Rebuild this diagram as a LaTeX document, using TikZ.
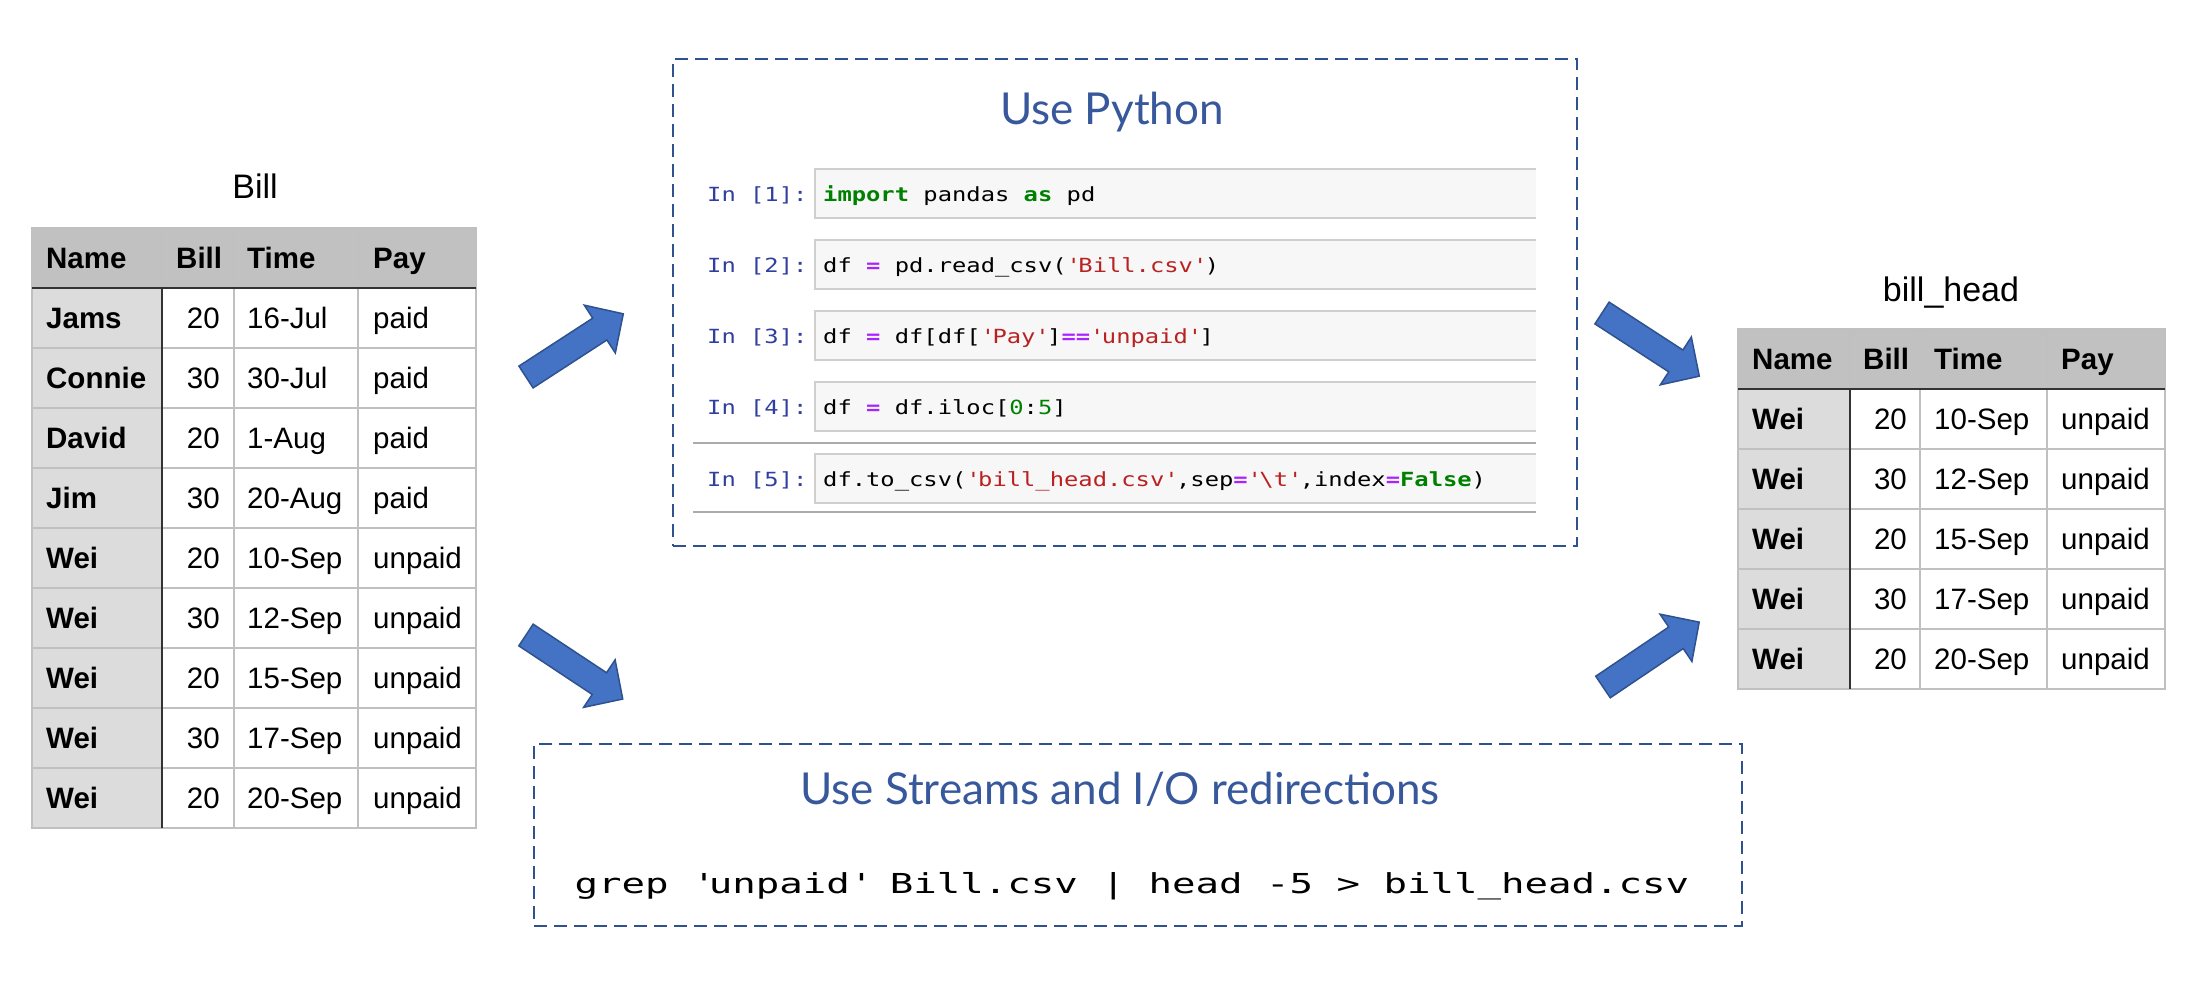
\documentclass[tikz,border=0pt]{standalone}
\usepackage{fontspec}
\usetikzlibrary{positioning, calc}
\setmainfont{Liberation Sans}
\newfontfamily\titlefont{Lato}
\newfontfamily\codefont[FakeStretch=1.22]{DejaVu Sans Mono}
\newfontfamily\shellfont[FakeStretch=1.42]{DejaVu Sans Mono}

\definecolor{headgray}{RGB}{192,193,192}
\definecolor{namegray}{RGB}{220,220,220}
\definecolor{gridgray}{RGB}{192,192,192}
\definecolor{boxblue}{RGB}{47,82,143}
\definecolor{titleblue}{RGB}{56,88,156}
\definecolor{arrowfill}{RGB}{68,114,196}
\definecolor{arrowdraw}{RGB}{47,82,143}
\definecolor{promptblue}{RGB}{48,63,159}
\definecolor{kwgreen}{RGB}{0,128,0}
\definecolor{strred}{RGB}{186,33,33}
\definecolor{oppurple}{RGB}{170,34,255}
\definecolor{cellfill}{RGB}{247,247,247}
\definecolor{cellline}{RGB}{207,207,207}
\definecolor{sepgray}{RGB}{171,171,171}

\newcommand{\sq}{\textquotesingle}
\newcommand{\pykw}[1]{\textcolor{kwgreen}{\bfseries #1}}
\newcommand{\pystr}[1]{\textcolor{strred}{#1}}
\newcommand{\pyop}[1]{\textcolor{oppurple}{\bfseries #1}}
\newcommand{\pynum}[1]{\textcolor{kwgreen}{#1}}

\begin{document}
\begin{tikzpicture}[
		x=1pt, y=-1pt,
		cellt/.style={font=\fontsize{29.5}{30}\selectfont, inner sep=0pt, text height=21pt, text depth=0pt},
		namet/.style={cellt, font=\fontsize{29.5}{30}\selectfont\bfseries},
		tabtitle/.style={font=\fontsize{34}{36}\selectfont, inner sep=0pt, text height=24pt, text depth=0pt},
		grid/.style={draw=gridgray, line width=1.5pt},
		darkline/.style={draw=black!80, line width=2pt},
		dashbox/.style={draw=boxblue, line width=2.5pt, dash pattern=on 13pt off 7pt, inner sep=0pt},
		boxtitle/.style={font=\fontsize{44}{46}\titlefont, text=titleblue, inner sep=0pt},
		prompt/.style={font=\fontsize{19.5}{20}\codefont, text=promptblue, inner sep=0pt, text height=14pt, text depth=0pt, anchor=west},
		code/.style={font=\fontsize{19.5}{20}\codefont, inner sep=0pt, text height=14pt, text depth=0pt, anchor=west},
		shell/.style={font=\fontsize{27.5}{28}\shellfont, inner sep=0pt, text height=20pt, text depth=0pt},
		blockarrow/.style={fill=arrowfill, draw=arrowdraw, line width=1.5pt, line join=miter}
	]
	\path[use as bounding box] (0,0) rectangle (2194,980);

	% Tabla de entrada: Bill
	\node[tabtitle] (billtitle) at (255,186) {Bill};
	\fill[headgray] (32,228) rectangle (476,288);
	\fill[namegray] (32,288) rectangle (162,828);
	\foreach \y in {348,408,...,768}
		\draw[grid] (32,\y) -- (476,\y);
	\foreach \x in {234,358}
		\draw[grid] (\x,228) -- (\x,828);
	\draw[grid] (162,228) -- (162,288);
	\draw[grid] (32,228) rectangle (476,828);
	\draw[darkline] (32,288) -- (476,288);
	\draw[darkline] (162,288) -- (162,828);

	\node[namet, anchor=west] (bill-h1) at (46,258) {Name};
	\node[namet, anchor=west] (bill-h2) at (176,258) {Bill};
	\node[namet, anchor=west] (bill-h3) at (247,258) {Time};
	\node[namet, anchor=west] (bill-h4) at (373,258) {Pay};
	\foreach \nm/\bl/\tm/\py [count=\i] in {Jams/20/16-Jul/paid, Connie/30/30-Jul/paid,
			David/20/1-Aug/paid, Jim/30/20-Aug/paid, Wei/20/10-Sep/unpaid, Wei/30/12-Sep/unpaid,
			Wei/20/15-Sep/unpaid, Wei/30/17-Sep/unpaid, Wei/20/20-Sep/unpaid} {
			\node[namet, anchor=west] (bill-n\i) at (46,258+60*\i) {\nm};
			\node[cellt, anchor=east] (bill-b\i) at (220,258+60*\i) {\bl};
			\node[cellt, anchor=west] (bill-t\i) at (247,258+60*\i) {\tm};
			\node[cellt, anchor=west] (bill-p\i) at (373,258+60*\i) {\py};
		}

	% Tabla de salida: bill_head
	\node[tabtitle] (headtitle) at (1951,289) {bill\_head};
	\fill[headgray] (1738,329) rectangle (2165,389);
	\fill[namegray] (1738,389) rectangle (1850,689);
	\foreach \y in {449,509,...,629}
		\draw[grid] (1738,\y) -- (2165,\y);
	\foreach \x in {1920,2047}
		\draw[grid] (\x,329) -- (\x,689);
	\draw[grid] (1850,329) -- (1850,389);
	\draw[grid] (1738,329) rectangle (2165,689);
	\draw[darkline] (1738,389) -- (2165,389);
	\draw[darkline] (1850,389) -- (1850,689);

	\node[namet, anchor=west] (head-h1) at (1752,359) {Name};
	\node[namet, anchor=west] (head-h2) at (1863,359) {Bill};
	\node[namet, anchor=west] (head-h3) at (1934,359) {Time};
	\node[namet, anchor=west] (head-h4) at (2061,359) {Pay};
	\foreach \bl/\tm [count=\i] in {20/10-Sep, 30/12-Sep, 20/15-Sep, 30/17-Sep, 20/20-Sep} {
			\node[namet, anchor=west] (head-n\i) at (1752,359+60*\i) {Wei};
			\node[cellt, anchor=east] (head-b\i) at (1907,359+60*\i) {\bl};
			\node[cellt, anchor=west] (head-t\i) at (1934,359+60*\i) {\tm};
			\node[cellt, anchor=west] (head-p\i) at (2061,359+60*\i) {unpaid};
		}

	% Caja Python
	\node[dashbox, minimum width=904pt, minimum height=487pt] (pybox) at (1125,302.5) {};
	\node[boxtitle] (pytitle) at (1112,112) {Use Python};
	\foreach \t [count=\i] in {169,240,311,382,454} {
			\fill[cellfill] (815,\t) rectangle (1536,\t+49);
			\draw[cellline, line width=2pt] (1536,\t) -- (815,\t) -- (815,\t+49) -- (1536,\t+49);
			\node[prompt] (in\i) at (707,\t+25) {In [\i]:};
		}
	\draw[sepgray, line width=2pt] (693,443) -- (1536,443);
	\draw[sepgray, line width=2pt] (693,512) -- (1536,512);
	\node[code] (code1) at (823,194) {\pykw{import} pandas \pykw{as} pd};
	\node[code] (code2) at (823,265) {df \pyop{=} pd.read\_csv(\pystr{\sq Bill.csv\sq})};
	\node[code] (code3) at (823,336) {df \pyop{=} df[df[\pystr{\sq Pay\sq}]\pyop{==}\pystr{\sq unpaid\sq}]};
	\node[code] (code4) at (823,407) {df \pyop{=} df.iloc[\pynum{0}:\pynum{5}]};
	\node[code] (code5) at (823,479) {df.to\_csv(\pystr{\sq bill\_head.csv\sq},sep\pyop{=}\pystr{\sq\textbackslash t\sq},index\pyop{=}\pykw{False})};

	% Caja Streams
	\node[dashbox, minimum width=1208pt, minimum height=182pt] (iobox) at (1138,835) {};
	\node[boxtitle] (iotitle) at (1120,789) {Use Streams and I/O redirections};
	\node[shell] (grepcmd) at (1132,883) {grep \sq unpaid\sq{} Bill.csv | head -5 > bill\_head.csv};

	% Flechas
	\coordinate (arr1) at (526,377);
	\coordinate (arr2) at (526,635);
	\coordinate (arr3) at (1602,313);
	\coordinate (arr4) at (1603,687);
	\foreach \c/\a in {arr1/33, arr2/-33.5, arr3/-33, arr4/34} {
			\begin{scope}[shift={(\c)}, rotate=\a]
				\draw[blockarrow] (0,-13) -- (88,-13) -- (88,-28.5) -- (116,0) -- (88,28.5) -- (88,13) -- (0,13) -- cycle;
			\end{scope}
		}

\end{tikzpicture}
\end{document}
